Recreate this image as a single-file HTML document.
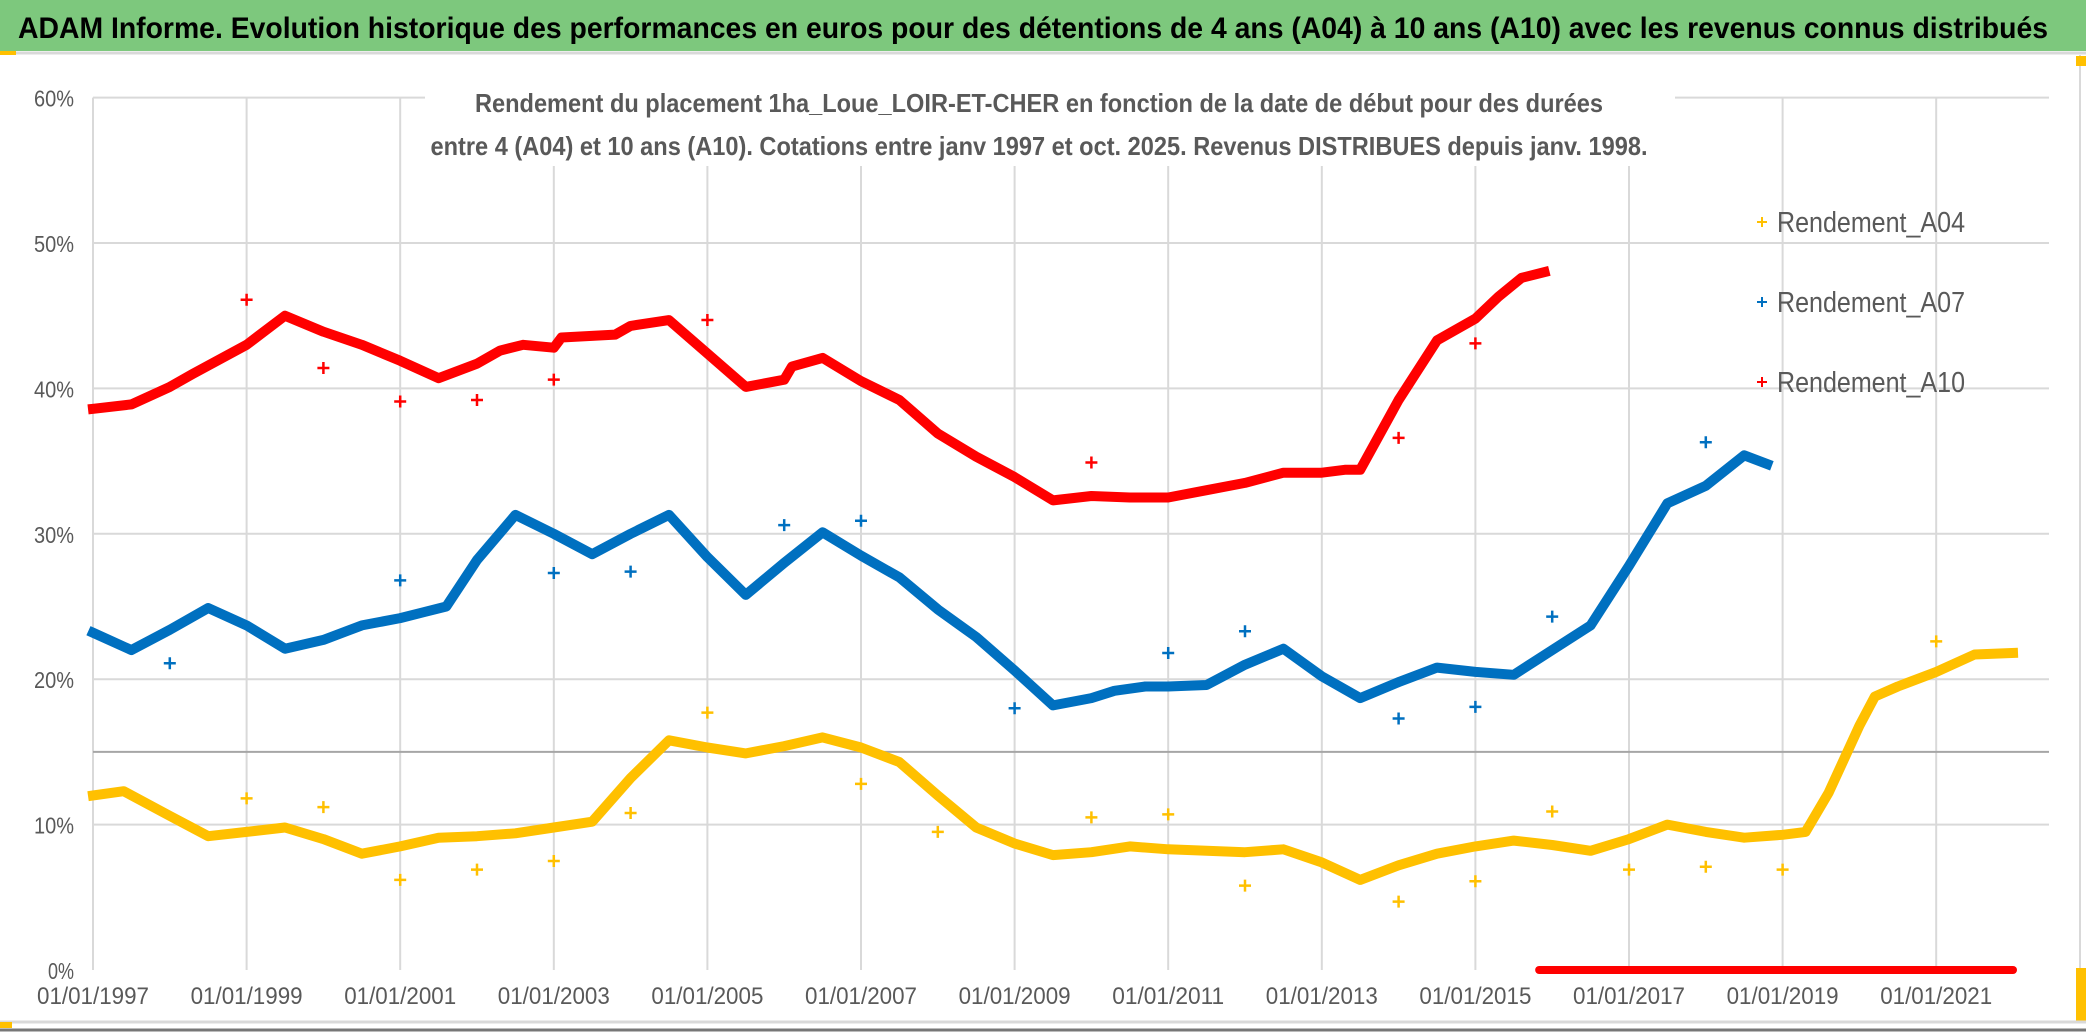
<!DOCTYPE html>
<html><head><meta charset="utf-8">
<style>
html,body{margin:0;padding:0;background:#fff;width:2086px;height:1032px;overflow:hidden}
svg{display:block;font-family:"Liberation Sans",sans-serif}
</style></head>
<body>
<svg id="chart" width="2086" height="1032" viewBox="0 0 2086 1032" xmlns="http://www.w3.org/2000/svg">
  <rect x="0" y="0" width="2086" height="1032" fill="#fff"/>
  <rect x="0" y="0" width="2086" height="51" fill="#7dc87d"/>
  <line x1="0" y1="53" x2="2086" y2="53" stroke="#d9d9d9" stroke-width="3"/>
  <rect x="0" y="51" width="16" height="4" fill="#ffc000"/>
  <text x="18" y="38" font-size="30" font-weight="bold" fill="#000" textLength="2030" lengthAdjust="spacingAndGlyphs">ADAM Informe. Evolution historique des performances en euros pour des détentions de 4 ans (A04) à 10 ans (A10) avec les revenus connus distribués</text>
  <line x1="2080" y1="55" x2="2080" y2="1020" stroke="#d9d9d9" stroke-width="2"/>
  <rect x="2076" y="56" width="10" height="10" fill="#ffc000"/>
  <rect x="2076" y="968" width="10" height="54" fill="#ffc000"/>
  <line x1="0" y1="1022" x2="2086" y2="1022" stroke="#d9d9d9" stroke-width="3"/>
  <line x1="0" y1="1030" x2="2086" y2="1030" stroke="#777" stroke-width="3"/>
  <rect x="0" y="1022" width="12" height="6" fill="#ffc000"/>
  <g id="grid"></g>
  <g id="axes"></g>
  <g id="series"></g>
  <rect x="425" y="78" width="1250" height="88" fill="#fff"/>
  <text x="1039" y="112" font-size="26" font-weight="bold" fill="#595959" text-anchor="middle" textLength="1128" lengthAdjust="spacingAndGlyphs">Rendement du placement 1ha_Loue_LOIR-ET-CHER en fonction de la date de début pour des durées</text>
  <text x="1039" y="155" font-size="26" font-weight="bold" fill="#595959" text-anchor="middle" textLength="1217" lengthAdjust="spacingAndGlyphs">entre 4 (A04) et 10 ans (A10). Cotations entre janv 1997 et oct. 2025. Revenus DISTRIBUES depuis janv. 1998.</text>
  <g id="legend"></g>
</svg>
<script>
const yTicks=[0,10,20,30,40,50,60];
const yTickLabels=["0%","10%","20%","30%","40%","50%","60%"];
const xTicks=[1997,1999,2001,2003,2005,2007,2009,2011,2013,2015,2017,2019,2021];
const xTickLabels=["01/01/1997","01/01/1999","01/01/2001","01/01/2003","01/01/2005","01/01/2007","01/01/2009","01/01/2011","01/01/2013","01/01/2015","01/01/2017","01/01/2019","01/01/2021"];
const seriesNames=["Rendement_A04","Rendement_A07","Rendement_A10"];
const a10Dates=[1997.0,1997.5,1998.0,1998.3,1999.0,1999.5,2000.0,2000.5,2001.0,2001.5,2002.0,2002.3,2002.6,2003.0,2003.1,2003.8,2004.0,2004.5,2005.0,2005.5,2006.0,2006.1,2006.5,2007.0,2007.5,2008.0,2008.5,2009.0,2009.5,2010.0,2010.5,2011.0,2011.5,2012.0,2012.5,2013.0,2013.3,2013.5,2014.0,2014.5,2015.0,2015.3,2015.6,2015.9];
const a10Values=[38.6,38.9,40.1,41.0,43.0,45.0,43.9,43.0,41.9,40.7,41.7,42.6,43.0,42.8,43.5,43.7,44.3,44.7,42.4,40.1,40.6,41.5,42.1,40.5,39.2,36.9,35.3,33.9,32.3,32.6,32.5,32.5,33.0,33.5,34.2,34.2,34.4,34.4,39.2,43.3,44.8,46.3,47.6,48.0];
const a10OutDates=[1999,2000,2001,2002,2003,2005,2010,2014,2015];
const a10OutValues=[46.1,41.4,39.1,39.2,40.6,44.7,34.9,36.6,43.1];
const a10ZeroStart=2015.83, a10ZeroEnd=2022.0;
const a07Dates=[1997.0,1997.5,1998.0,1998.5,1999.0,1999.5,2000.0,2000.5,2001.0,2001.3,2001.6,2002.0,2002.5,2003.0,2003.5,2004.0,2004.5,2005.0,2005.5,2006.0,2006.5,2007.0,2007.5,2008.0,2008.5,2009.0,2009.5,2010.0,2010.3,2010.7,2011.0,2011.5,2012.0,2012.5,2013.0,2013.5,2014.0,2014.5,2015.0,2015.5,2016.0,2016.5,2017.0,2017.5,2018.0,2018.5,2018.8];
const a07Values=[23.2,22.0,23.4,24.9,23.7,22.1,22.7,23.7,24.2,24.6,25.0,28.2,31.3,30.0,28.6,30.0,31.3,28.4,25.8,28.0,30.1,28.5,27.0,24.8,22.9,20.6,18.2,18.7,19.2,19.5,19.5,19.6,21.0,22.1,20.2,18.7,19.8,20.8,20.5,20.3,22.0,23.7,27.8,32.1,33.3,35.4,34.8];
const a07OutDates=[1998,2001,2003,2004,2006,2007,2009,2011,2012,2014,2015,2016,2018];
const a07OutValues=[21.1,26.8,27.3,27.4,30.6,30.9,18.0,21.8,23.3,17.3,18.1,24.3,36.3];
const a04Dates=[1997.0,1997.4,1998.0,1998.5,1999.0,1999.5,2000.0,2000.5,2001.0,2001.5,2002.0,2002.5,2003.0,2003.5,2004.0,2004.5,2005.0,2005.5,2006.0,2006.5,2007.0,2007.5,2008.0,2008.5,2009.0,2009.5,2010.0,2010.5,2011.0,2011.5,2012.0,2012.5,2013.0,2013.5,2014.0,2014.5,2015.0,2015.5,2016.0,2016.5,2017.0,2017.5,2018.0,2018.5,2019.0,2019.3,2019.6,2020.0,2020.2,2020.5,2021.0,2021.5,2022.0];
const a04Values=[12.0,12.3,10.6,9.2,9.5,9.8,9.0,8.0,8.5,9.1,9.2,9.4,9.8,10.2,13.2,15.8,15.3,14.9,15.4,16.0,15.3,14.3,12.0,9.8,8.7,7.9,8.1,8.5,8.3,8.2,8.1,8.3,7.4,6.2,7.2,8.0,8.5,8.9,8.6,8.2,9.0,10.0,9.5,9.1,9.3,9.5,12.2,16.8,18.8,19.5,20.5,21.7,21.8];
const a04OutDates=[1999,2000,2001,2002,2003,2004,2005,2007,2008,2010,2011,2012,2014,2015,2016,2017,2018,2019,2021];
const a04OutValues=[11.8,11.2,6.2,6.9,7.5,10.8,17.7,12.8,9.5,10.5,10.7,5.8,4.7,6.1,10.9,6.9,7.1,6.9,22.6];

const NS="http://www.w3.org/2000/svg";
const X0=93, PX_PER_YEAR=76.8, Y0=970, PX_PER_PCT=14.54, XRIGHT=2049;
function xs(d){return X0+(d-1997)*PX_PER_YEAR;}
function ys(v){return Y0-v*PX_PER_PCT;}
function mk(tag,attrs,parent){const e=document.createElementNS(NS,tag);for(const k in attrs)e.setAttribute(k,attrs[k]);parent.appendChild(e);return e;}
const grid=document.getElementById('grid'),axes=document.getElementById('axes'),series=document.getElementById('series'),legend=document.getElementById('legend');

yTicks.forEach((t,i)=>{
  if(t>0){const l=mk('line',{x1:X0,x2:XRIGHT,y1:ys(t),y2:ys(t),stroke:'#d9d9d9','stroke-width':2},grid);
  
  }
  const tx=mk('text',{x:74,y:ys(t)+9,'font-size':23,fill:'#595959','text-anchor':'end',textLength:t===0?26:40,lengthAdjust:'spacingAndGlyphs'},axes);
  tx.textContent=yTickLabels[i];
  
  
});
xTicks.forEach((t,i)=>{
  const l=mk('line',{x1:xs(t),x2:xs(t),y1:ys(60),y2:Y0,stroke:'#d9d9d9','stroke-width':2},grid);
  
  
  const tx=mk('text',{x:xs(t),y:1004,'font-size':24,fill:'#595959','text-anchor':'middle',textLength:112,lengthAdjust:'spacingAndGlyphs'},axes);
  tx.textContent=xTickLabels[i];
  
  
});
const ref=mk('line',{x1:X0,x2:XRIGHT,y1:ys(15),y2:ys(15),stroke:'#a6a6a6','stroke-width':2},grid);



function plus(x,y,s,color,w,parent){
  return mk('path',{d:`M${x-s} ${y}H${x+s}M${x} ${y-s}V${y+s}`,stroke:color,'stroke-width':w,fill:'none'},parent);
}
function drawSeries(name,dates,vals,outD,outV,color){
  const g=mk('g',{},series);
  
  
  const pts=dates.map((d,i)=>xs(d).toFixed(1)+','+ys(vals[i]).toFixed(1)).join(' ');
  const pl=mk('polyline',{points:pts,fill:'none',stroke:color,'stroke-width':10,'stroke-linejoin':'round','stroke-linecap':'square'},g);
  
  
  outD.forEach((d,i)=>{
    const p=plus(xs(d),ys(outV[i]),6,color,2.5,g);
    
    
  });
  return g;
}
drawSeries('series-a04',a04Dates,a04Values,a04OutDates,a04OutValues,'#ffc000');
drawSeries('series-a07',a07Dates,a07Values,a07OutDates,a07OutValues,'#0070c0');
const g10=drawSeries('series-a10',a10Dates,a10Values,a10OutDates,a10OutValues,'#ff0000');
const zl=mk('line',{x1:xs(a10ZeroStart),x2:xs(a10ZeroEnd),y1:ys(0),y2:ys(0),stroke:'#ff0000','stroke-width':8,'stroke-linecap':'round'},g10);



const legColors=['#ffc000','#0070c0','#ff0000'];
const legY=[232,312,392];
seriesNames.forEach((n,i)=>{
  const g=mk('g',{},legend);
  
  
  plus(1762,legY[i]-10,5,legColors[i],2,g);
  const t=mk('text',{x:1777,y:legY[i],'font-size':29,fill:'#595959',textLength:188,lengthAdjust:'spacingAndGlyphs'},g);
  t.textContent=n;
});
</script>
</body></html>
